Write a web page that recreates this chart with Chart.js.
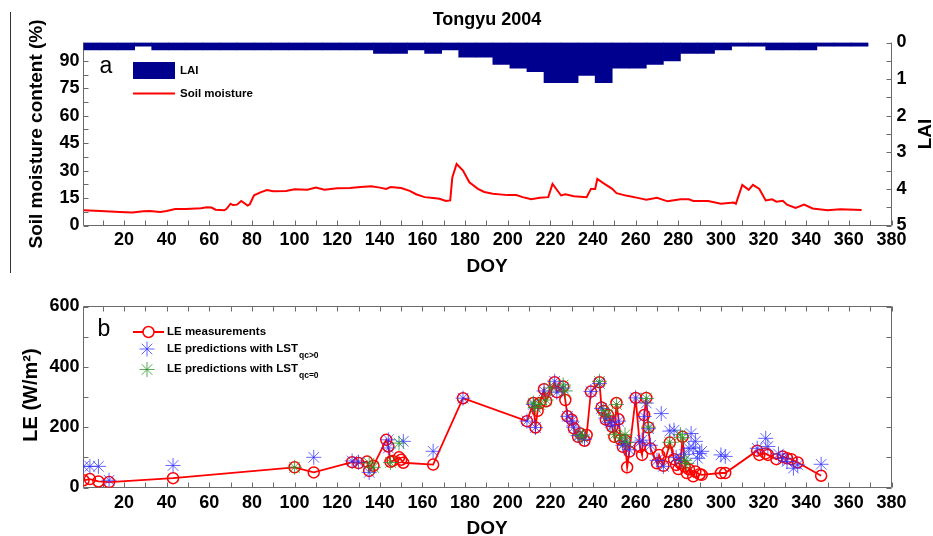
<!DOCTYPE html>
<html>
<head>
<meta charset="utf-8">
<script src="https://cdn.jsdelivr.net/npm/chart.js@4.4.1/dist/chart.umd.min.js"></script>
<style>
  html, body { margin: 0; padding: 0; background: #fff; }
  #wrap { position: relative; width: 933px; height: 536px; overflow: hidden; }
  #top { position: absolute; left: 0; top: 0; }
  #bottom { position: absolute; left: 0; top: 280px; }
  #vline { position: absolute; left: 10px; top: 12px; width: 1px; height: 261px; background: #333; }
</style>
</head>
<body>
<div id="wrap">
  <canvas id="top" width="933" height="280"></canvas>
  <canvas id="bottom" width="933" height="256"></canvas>
  <div id="vline"></div>
</div>
<script>
// ---- data ----
// LAI, 8-day composites (start DOY of each window)
const laiStart = [1, 9, 17, 25, 33, 41, 49, 57, 65, 73, 81, 89, 97, 105, 113, 121, 129, 137, 145, 153,
  161, 169, 177, 185, 193, 201, 209, 217, 225, 233, 241, 249, 257, 265, 273, 281, 289, 297, 305, 313,
  321, 329, 337, 345, 353, 361]
const laiValue = [0.2, 0.2, 0.2, 0.1, 0.2, 0.2, 0.2, 0.2, 0.2, 0.2, 0.2, 0.2, 0.2, 0.2, 0.2, 0.2, 0.2, 0.3, 0.3, 0.2,
  0.3, 0.2, 0.4, 0.4, 0.6, 0.7, 0.8, 1.1, 1.1, 0.9, 1.1, 0.7, 0.7, 0.6, 0.5, 0.3, 0.3, 0.2, 0.1, 0.1,
  0.2, 0.2, 0.2, 0.1, 0.1, 0.1]

// soil moisture (%)
const smDoy = [1, 9, 18, 24, 29, 32, 37, 40, 44, 49, 56, 59, 61, 63, 67, 68, 70, 71, 73, 75,
  78, 79, 81, 84, 87, 90, 96, 100, 106, 110, 114, 120, 126, 131, 136, 140, 143, 145, 150, 154,
  157, 161, 165, 168, 171, 173, 174, 176, 179, 182, 186, 189, 193, 200, 204, 207, 211, 215, 219, 221,
  225, 227, 231, 237, 239, 241, 242, 245, 249, 251, 256, 261, 265, 270, 275, 281, 285, 287, 294, 300,
  306, 307, 310, 313, 315, 318, 321, 324, 326, 329, 331, 335, 339, 343, 350, 356, 366]
const smValue = [8.3, 7.9, 7.4, 7.1, 7.8, 7.9, 7.4, 7.9, 9.0, 9.0, 9.4, 10.0, 9.8, 8.6, 8.3, 9.0, 11.9, 11.2, 11.4, 13.4,
  10.9, 11.6, 16.5, 18.1, 19.4, 18.7, 18.9, 19.8, 19.6, 20.7, 19.6, 20.3, 20.5, 21.0, 21.4, 20.7, 20.0, 21.0, 20.5, 18.9,
  17.1, 15.5, 15.0, 14.6, 13.4, 13.7, 26.3, 33.6, 30.0, 23.6, 20.0, 18.3, 17.4, 16.6, 16.6, 15.5, 14.4, 15.1, 15.5, 22.7,
  16.4, 17.0, 16.0, 15.5, 20.0, 20.0, 25.4, 23.0, 20.0, 17.7, 16.2, 15.1, 14.1, 15.1, 13.2, 14.3, 14.3, 13.4, 13.4, 11.9,
  12.5, 11.9, 22.2, 19.5, 22.2, 20.0, 13.7, 14.3, 13.0, 13.5, 11.4, 9.6, 11.4, 9.3, 8.3, 8.9, 8.5]

// LE measurements (W/m2)
const leDoy = [1, 4, 8, 13, 43, 100, 109, 127, 130, 134, 135, 137, 143, 144, 145, 146, 149, 150, 151, 165, 179,
  209, 212, 213, 214, 215, 217, 218, 222, 223, 226, 227, 228, 230, 231, 233, 234, 236, 237, 239, 243,
  244, 245, 246, 247, 248, 249, 250, 251, 252, 253, 254, 255, 256, 257, 260, 262, 263, 264, 265, 266,
  267, 270, 271, 273, 275, 276, 278, 279, 280, 281, 282, 283, 284, 285, 287, 288, 290, 291, 300, 302,
  317, 318, 321, 322, 326, 329, 331, 333, 336, 347]
const leValue = [24, 28, 20, 18, 31, 67, 50, 84, 81, 86, 55, 72, 158, 136, 85, 88, 100, 92, 82, 76, 296,
  220, 280, 199, 254, 280, 326, 286, 349, 316, 335, 290, 236, 225, 196, 168, 179, 155, 174, 318, 349,
  265, 254, 225, 240, 220, 201, 168, 280, 226, 159, 135, 157, 67, 119, 297, 135, 108, 240, 297, 199,
  129, 80, 108, 72, 119, 149, 94, 75, 61, 80, 168, 70, 48, 60, 37, 53, 44, 42, 48, 48,
  122, 108, 113, 108, 94, 103, 97, 94, 83, 39]

// LE predictions with LST qc>0
const qcPosDoy = [1, 4, 8, 13, 43, 109, 127, 130, 135, 144, 144, 151, 165, 179, 209, 212, 213, 217, 222, 223,
  226, 228, 230, 231, 233, 236, 239, 243, 244, 246, 248, 249, 252, 254, 255, 257, 260, 262, 263, 264,
  265, 266, 267, 270, 272, 273, 276, 278, 279, 281, 283, 285, 286, 287, 288, 289, 290, 291, 300, 302,
  317, 321, 322, 327, 329, 331, 334, 336, 347]
const qcPosValue = [70, 70, 70, 24, 73, 100, 88, 84, 50, 158, 131, 153, 120, 296, 220, 275, 199, 320, 352, 316,
  330, 236, 220, 200, 172, 160, 318, 345, 262, 230, 215, 205, 220, 140, 150, 125, 297, 150, 157, 235,
  280, 195, 140, 90, 245, 70, 187, 190, 100, 90, 110, 130, 179, 131, 153, 97, 113, 120, 108, 103,
  130, 163, 136, 111, 97, 86, 64, 75, 77]

// LE predictions with LST qc=0
const qcZeroDoy = [100, 135, 137, 145, 149, 212, 213, 215, 218, 220, 226, 227, 234, 235, 243,
  245, 247, 250, 251, 253, 255, 256, 265, 266, 276, 281, 282, 283, 284]
const qcZeroValue = [67, 81, 67, 83, 147, 280, 265, 275, 290, 330, 340, 320, 175, 170, 352,
  255, 240, 175, 275, 165, 175, 150, 295, 200, 150, 175, 165, 90, 80]

// tick labels
const doyTicks = [20, 40, 60, 80, 100, 120, 140, 160, 180, 200, 220, 240, 260, 280, 300, 320, 340, 360, 380]
const smTicks = [0, 15, 30, 45, 60, 75, 90]
const laiTicks = [0, 1, 2, 3, 4, 5]
const leTicks = [0, 200, 400, 600]

// ---- styling ----
const FAMILY = '"Liberation Sans", Arial, Helvetica, sans-serif'
Chart.defaults.font.family = FAMILY
Chart.defaults.color = '#000'
const tickFont = { family: FAMILY, size: 18, weight: 'bold' }
const RED = '#ff0000'
const BLUE = 'rgba(50, 50, 255, 0.75)'
const GREEN = 'rgba(40, 150, 40, 0.8)'
const NAVY = '#00008f'

const setTicks = list => scale => { scale.ticks = list.map(v => ({ value: v })) }
const pairs = (xs, ys) => xs.map((x, i) => ({ x: x, y: ys[i] }))

// inward MATLAB-like ticks and axis box
const frame = {
  id: 'frame',
  beforeDatasetsDraw(chart, args, o) {
    const { ctx, chartArea: a } = chart
    const len = 5
    ctx.save()
    ctx.strokeStyle = '#6a6a6a'
    ctx.lineWidth = 1
    ctx.beginPath()
    ctx.moveTo(a.left, a.top)
    ctx.lineTo(a.left, a.bottom)
    ctx.lineTo(a.right, a.bottom)
    ctx.lineTo(a.right, a.top)
    if (o.box) ctx.lineTo(a.left, a.top)
    const x = chart.scales.x
    for (let v = 10; v <= 380; v += 10) {
      const px = Math.round(x.getPixelForValue(v)) + 0.5
      ctx.moveTo(px, a.bottom); ctx.lineTo(px, a.bottom - len)
      if (o.box) { ctx.moveTo(px, a.top); ctx.lineTo(px, a.top + len) }
    }
    const yl = chart.scales[o.left]
    for (let v = 0; v <= yl.max + 1e-9; v += o.leftStep) {
      const py = Math.round(yl.getPixelForValue(v)) + 0.5
      ctx.moveTo(a.left, py); ctx.lineTo(a.left + len, py)
      if (o.box) { ctx.moveTo(a.right, py); ctx.lineTo(a.right - len, py) }
    }
    if (o.right) {
      const yr = chart.scales[o.right]
      for (let v = 0; v <= yr.max + 1e-9; v += o.rightStep) {
        const py = Math.round(yr.getPixelForValue(v)) + 0.5
        ctx.moveTo(a.right, py); ctx.lineTo(a.right - len, py)
      }
    }
    ctx.stroke()
    ctx.restore()
  }
}

function drawStar(ctx, x, y, r, color) {
  ctx.save()
  ctx.strokeStyle = color
  ctx.lineWidth = 1
  ctx.beginPath()
  for (let k = 0; k < 4; k++) {
    const t = k * Math.PI / 4
    ctx.moveTo(x - r * Math.cos(t), y - r * Math.sin(t))
    ctx.lineTo(x + r * Math.cos(t), y + r * Math.sin(t))
  }
  ctx.stroke()
  ctx.restore()
}

// free text, panel letters and hand-placed legends
const notes = {
  id: 'notes',
  afterDraw(chart, args, o) {
    const ctx = chart.ctx
    ;(o.marks || []).forEach(m => {
      ctx.save()
      if (m.kind === 'box') {
        ctx.fillStyle = m.color
        ctx.fillRect(m.x, m.y, m.w, m.h)
      } else if (m.kind === 'line') {
        ctx.strokeStyle = m.color
        ctx.lineWidth = 2
        ctx.beginPath(); ctx.moveTo(m.x, m.y); ctx.lineTo(m.x + m.w, m.y); ctx.stroke()
        if (m.circle) {
          ctx.lineWidth = 1.5
          ctx.beginPath(); ctx.arc(m.x + m.w / 2, m.y, 5.5, 0, Math.PI * 2)
          ctx.fillStyle = '#fff'; ctx.fill(); ctx.stroke()
        }
      } else if (m.kind === 'star') {
        drawStar(ctx, m.x, m.y, 7.5, m.color)
      }
      ctx.restore()
    })
    ;(o.texts || []).forEach(t => {
      ctx.save()
      ctx.translate(t.x, t.y)
      if (t.rot) ctx.rotate(t.rot)
      ctx.font = t.font
      ctx.fillStyle = '#000'
      ctx.textAlign = t.align || 'center'
      ctx.textBaseline = 'middle'
      ctx.fillText(t.text, 0, 0)
      if (t.sub) {
        const w = ctx.measureText(t.text).width
        ctx.font = 'bold 8.5px ' + FAMILY
        ctx.textAlign = 'left'
        ctx.fillText(t.sub, w + 1, 7)
      }
      ctx.restore()
    })
  }
}

const titleFont = 'bold 19px ' + FAMILY
const legendFont = 'bold 11.5px ' + FAMILY

// ---- panel a ----
new Chart(document.getElementById('top'), {
  type: 'bar',
  data: {
    datasets: [
      {
        type: 'bar',
        label: 'LAI',
        data: pairs(laiStart.map(d => d + 4), laiValue),
        yAxisID: 'yLai',
        backgroundColor: NAVY,
        borderWidth: 0,
        barPercentage: 1,
        categoryPercentage: 1,
        order: 1
      },
      {
        type: 'line',
        label: 'Soil moisture',
        data: pairs(smDoy, smValue),
        yAxisID: 'ySm',
        borderColor: RED,
        borderWidth: 2,
        pointRadius: 0,
        tension: 0,
        order: 0
      }
    ]
  },
  options: {
    responsive: false,
    animation: false,
    layout: { padding: { top: 42.5, left: 0, right: 0, bottom: 0 } },
    plugins: {
      legend: { display: false },
      tooltip: { enabled: false },
      frame: { left: 'ySm', leftStep: 7.5, right: 'yLai', rightStep: 0.5, box: false },
      notes: {
        marks: [
          { kind: 'box', x: 133, y: 62, w: 42, h: 17, color: NAVY },
          { kind: 'line', x: 133, y: 93.5, w: 42, color: RED }
        ],
        texts: [
          { text: 'Tongyu 2004', x: 487, y: 20, font: 'bold 18px ' + FAMILY },
          { text: 'a', x: 106, y: 67, font: '23px ' + FAMILY },
          { text: 'LAI', x: 180, y: 71, font: legendFont, align: 'left' },
          { text: 'Soil moisture', x: 180, y: 93.5, font: legendFont, align: 'left' },
          { text: 'Soil moisture content (%)', x: 37, y: 134, rot: -Math.PI / 2, font: titleFont },
          { text: 'LAI', x: 926, y: 134, rot: -Math.PI / 2, font: titleFont },
          { text: 'DOY', x: 487, y: 267, font: titleFont }
        ]
      }
    },
    scales: {
      x: {
        type: 'linear', min: 1, max: 380, offset: false,
        grid: { display: false, drawTicks: false }, border: { display: false },
        afterBuildTicks: setTicks(doyTicks),
        afterFit: s => { s.height = 54.5 },
        ticks: { padding: 4, maxRotation: 0, autoSkip: false, font: tickFont, color: '#000' }
      },
      ySm: {
        position: 'left', min: 0, max: 100,
        grid: { display: false, drawTicks: false }, border: { display: false },
        afterBuildTicks: setTicks(smTicks),
        afterFit: s => { s.width = 83.5 },
        ticks: { padding: 4, font: tickFont, color: '#000' }
      },
      yLai: {
        position: 'right', min: 0, max: 5, reverse: true,
        grid: { display: false, drawTicks: false }, border: { display: false },
        afterBuildTicks: setTicks(laiTicks),
        afterFit: s => { s.width = 41.5 },
        ticks: { padding: 5, font: tickFont, color: '#000' }
      }
    }
  },
  plugins: [frame, notes]
})

// ---- panel b ----
new Chart(document.getElementById('bottom'), {
  type: 'line',
  data: {
    datasets: [
      {
        label: 'LE measurements',
        data: pairs(leDoy, leValue),
        borderColor: RED,
        borderWidth: 1.8,
        pointStyle: 'circle',
        pointRadius: 5.5,
        pointBorderWidth: 1.5,
        pointBorderColor: RED,
        pointBackgroundColor: 'rgba(0,0,0,0)',
        tension: 0,
        order: 2
      },
      {
        label: 'LE predictions with LST qc>0',
        data: pairs(qcPosDoy, qcPosValue),
        showLine: false,
        pointStyle: 'star',
        pointRadius: 7.5,
        pointBorderWidth: 1,
        pointBorderColor: BLUE,
        order: 1
      },
      {
        label: 'LE predictions with LST qc=0',
        data: pairs(qcZeroDoy, qcZeroValue),
        showLine: false,
        pointStyle: 'star',
        pointRadius: 7.5,
        pointBorderWidth: 1,
        pointBorderColor: GREEN,
        order: 0
      }
    ]
  },
  options: {
    responsive: false,
    animation: false,
    layout: { padding: { top: 26.5, left: 0, right: 41.5, bottom: 0 } },
    plugins: {
      legend: { display: false },
      tooltip: { enabled: false },
      frame: { left: 'y', leftStep: 100, box: true },
      notes: {
        marks: [
          { kind: 'line', x: 133, y: 52, w: 31, color: RED, circle: true },
          { kind: 'star', x: 147, y: 69, color: BLUE },
          { kind: 'star', x: 147, y: 89.5, color: GREEN }
        ],
        texts: [
          { text: 'b', x: 104, y: 50, font: '23px ' + FAMILY },
          { text: 'LE measurements', x: 167, y: 52, font: legendFont, align: 'left' },
          { text: 'LE predictions with LST', x: 167, y: 68.5, font: legendFont, align: 'left', sub: 'qc>0' },
          { text: 'LE predictions with LST', x: 167, y: 89, font: legendFont, align: 'left', sub: 'qc=0' },
          { text: 'LE (W/m²)', x: 31, y: 115, rot: -Math.PI / 2, font: 'bold 20px ' + FAMILY },
          { text: 'DOY', x: 487, y: 249, font: titleFont }
        ]
      }
    },
    scales: {
      x: {
        type: 'linear', min: 1, max: 380,
        grid: { display: false, drawTicks: false }, border: { display: false },
        afterBuildTicks: setTicks(doyTicks),
        afterFit: s => { s.height = 48.5 },
        ticks: { padding: 5, maxRotation: 0, autoSkip: false, font: tickFont, color: '#000' }
      },
      y: {
        position: 'left', min: 0, max: 600,
        grid: { display: false, drawTicks: false }, border: { display: false },
        afterBuildTicks: setTicks(leTicks),
        afterFit: s => { s.width = 83.5 },
        ticks: { padding: 4, font: tickFont, color: '#000' }
      }
    }
  },
  plugins: [frame, notes]
})
</script>
</body>
</html>
